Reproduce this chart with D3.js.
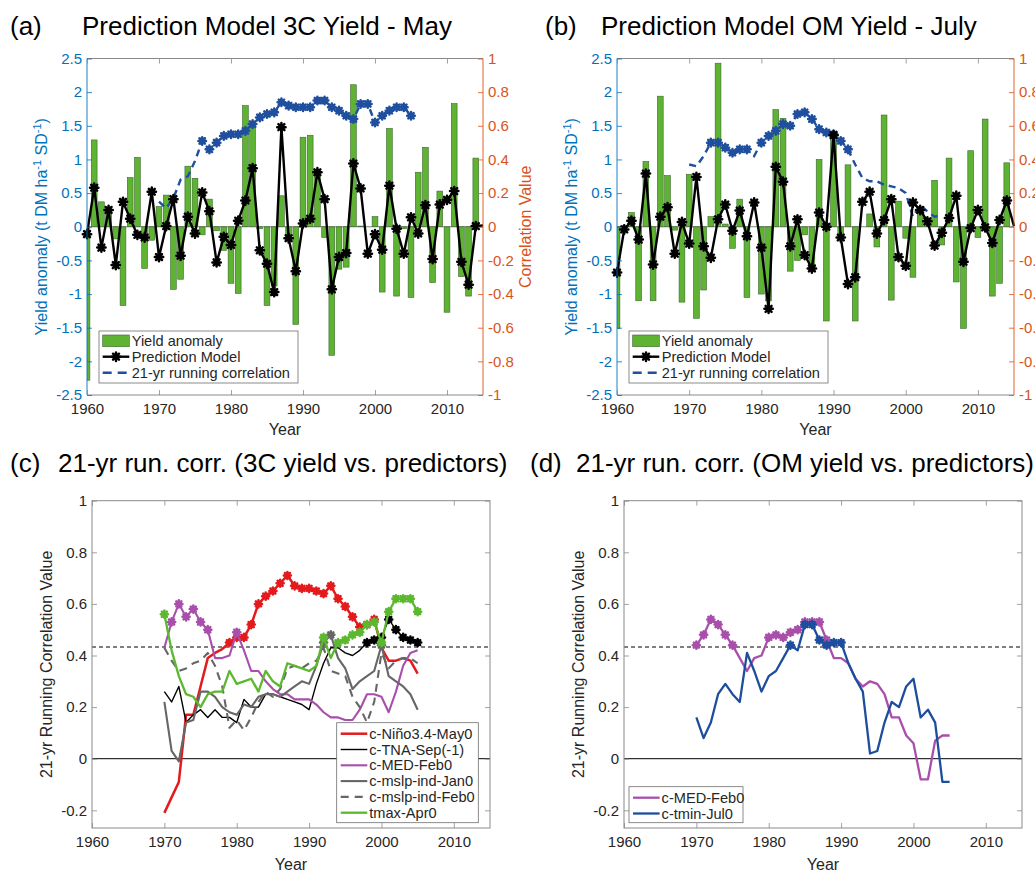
<!DOCTYPE html>
<html><head><meta charset="utf-8">
<script src="https://cdn.jsdelivr.net/npm/d3@7"></script>
<style>body{margin:0;background:#fff}svg{display:block}</style>
</head><body><svg id="chart" width="1035" height="877"></svg>
<script>
// ---------------- DATA ----------------
const barYears = d3.range(1960, 2015);
const lineYears = d3.range(1960, 2016);
const corrYears = d3.range(1970, 2006);
const xTickValues = [1960, 1970, 1980, 1990, 2000, 2010];
const yieldTickValues = [-2.5, -2, -1.5, -1, -0.5, 0, 0.5, 1, 1.5, 2, 2.5];
const corrAxisTickValues = [-1, -0.8, -0.6, -0.4, -0.2, 0, 0.2, 0.4, 0.6, 0.8, 1];
const runTickValues = [-0.2, 0, 0.2, 0.4, 0.6, 0.8, 1];
const sigLevel = 0.433;

const yield3C = [-2.28, 1.29, 0.37, 0.27, -0.18, -1.17, 0.73, 1.03, -0.62, -0.2,
  0.3, 0.47, -0.93, -0.78, 0.9, 0.72, -0.12, 0.41, -0.06, -0.35,
  -0.84, -0.99, 1.8, 1.51, -0.03, -1.17, -0.88, 0.46, -0.17, -1.45,
  1.33, 1.36, 0.8, -0.16, -1.91, -0.63, -0.6, 2.11, 0.01, 0.0,
  0.15, -0.97, 1.46, -1.03, -0.03, -1.05, 0.81, 1.18, -0.83, 0.53,
  -1.27, 1.83, -0.74, -1.03, 1.02];
const pred3C = [-0.11, 0.58, -0.31, 0.25, -0.57, 0.37, 0.12, -0.12, -0.16, 0.52,
  -0.45, 0.01, 0.41, -0.43, 0.15, -0.1, 0.51, 0.23, -0.53, -0.15,
  -0.27, 0.09, 0.39, 0.87, -0.35, -0.55, -0.97, 1.48, -0.17, -0.66,
  0.05, 0.12, 0.81, 0.41, -0.93, -0.45, -0.39, 0.94, 0.57, -0.4,
  -0.11, -0.34, 0.61, -0.03, -0.4, 0.14, -0.1, 0.32, -0.48, 0.33,
  0.4, 0.53, -0.52, -0.86, 0.01, 0.02];
const corr3C = [0.15, 0.11, 0.17, 0.28, 0.30, 0.39, 0.51, 0.46, 0.50, 0.54,
  0.55, 0.55, 0.57, 0.61, 0.65, 0.67, 0.68, 0.74, 0.72, 0.71,
  0.71, 0.71, 0.75, 0.75, 0.71, 0.69, 0.66, 0.64, 0.73, 0.73,
  0.62, 0.66, 0.69, 0.71, 0.71, 0.66];

const yieldOM = [-1.51, 0.02, 0.21, -1.1, 0.97, -1.1, 1.94, 0.76, -0.05, -1.12,
  0.78, -1.36, -0.94, 0.15, 2.43, 0.04, -0.32, 0.41, -1.05, 0.0,
  -1.0, -1.1, 1.74, 1.61, -0.66, -0.5, -0.12, -0.66, 1.0, -1.4,
  1.34, -0.1, 0.92, -1.4, 0.0, 0.19, -0.3, 1.66, -1.09, 0.38,
  -0.17, -0.75, 0.2, 0.05, 0.69, -0.27, 1.02, -0.82, -1.51, 1.13,
  -0.16, 1.6, -1.03, -0.84, 0.95];
const predOM = [-0.68, -0.04, 0.09, -0.19, 0.79, -0.56, 0.15, 0.29, -0.4, 0.07,
  -0.25, 0.74, -0.29, -0.46, 0.11, 0.33, -0.06, 0.24, -0.14, 0.36,
  -0.31, -1.22, 0.89, 0.67, -0.29, 0.11, -0.42, -0.62, 0.21, 0.0,
  1.36, -0.16, -0.85, -0.75, 0.37, 0.52, -0.1, 0.1, 0.41, -0.45,
  -0.58, 0.36, 0.25, 0.08, -0.28, -0.09, 0.13, 0.46, -0.52, -0.02,
  0.25, -0.01, -0.24, 0.1, 0.39, 0.01];
const corrOM = [0.37, 0.36, 0.42, 0.50, 0.50, 0.47, 0.44, 0.46, 0.46, 0.42,
  0.50, 0.54, 0.57, 0.61, 0.60, 0.67, 0.68, 0.64, 0.58, 0.56,
  0.55, 0.51, 0.46, 0.37, 0.29, 0.27, 0.27, 0.25, 0.24, 0.23,
  0.20, 0.06, 0.13, 0.09, 0.06, 0.07];

const cNino = [-0.21, -0.15, -0.09, 0.17, 0.17, 0.28, 0.39, 0.41, 0.425, 0.45,
  0.47, 0.47, 0.52, 0.6, 0.63, 0.65, 0.68, 0.71, 0.67, 0.66,
  0.66, 0.65, 0.64, 0.67, 0.62, 0.59, 0.55, 0.51, 0.52, 0.54,
  0.43, 0.38, 0.38, 0.39, 0.38, 0.33];
const cTNA = [0.26, 0.22, 0.28, 0.14, 0.17, 0.19, 0.16, 0.19, 0.16, 0.16,
  0.14, 0.23, 0.2, 0.2, 0.25, 0.25, 0.24, 0.23, 0.22, 0.21,
  0.19, 0.29, 0.37, 0.43, 0.43, 0.41, 0.4, 0.42, 0.45, 0.46,
  0.47, 0.54, 0.5, 0.47, 0.46, 0.45];
const cMED = [0.43, 0.53, 0.6, 0.55, 0.58, 0.53, 0.5, 0.39, 0.39, 0.4,
  0.49, 0.42, 0.34, 0.34, 0.3, 0.27, 0.25, 0.25, 0.23, 0.23,
  0.23, 0.21, 0.18, 0.16, 0.16, 0.15, 0.15, 0.19, 0.25, 0.25,
  0.24, 0.18, 0.26, 0.36, 0.41, 0.42];
const cMslpJan = [0.22, 0.03, -0.01, 0.14, 0.15, 0.26, 0.26, 0.24, 0.2, 0.18,
  0.17, 0.21, 0.2, 0.24, 0.25, 0.25, 0.24, 0.26, 0.28, 0.3,
  0.29, 0.36, 0.45, 0.48, 0.39, 0.35, 0.27, 0.3, 0.32, 0.34,
  0.44, 0.32, 0.3, 0.28, 0.25, 0.19];
const cMslpFeb = [0.43, 0.38, 0.34, 0.35, 0.37, 0.38, 0.41, 0.36, 0.28, 0.12,
  0.15, 0.11, 0.16, 0.22, 0.26, 0.24, 0.27, 0.35, 0.36, 0.35,
  0.37, 0.38, 0.43, 0.34, 0.33, 0.32, 0.24, 0.2, 0.14, 0.22,
  0.41, 0.35, 0.38, 0.39, 0.39, 0.37];
const tmaxApr = [0.56, 0.42, 0.32, 0.25, 0.24, 0.2, 0.25, 0.26, 0.26, 0.34,
  0.29, 0.3, 0.31, 0.26, 0.34, 0.3, 0.28, 0.37, 0.36, 0.35,
  0.34, 0.36, 0.47, 0.39, 0.45, 0.46, 0.48, 0.49, 0.52, 0.53,
  0.45, 0.57, 0.62, 0.62, 0.62, 0.57];

const dMED = [0.44, 0.48, 0.54, 0.52, 0.48, 0.44, 0.39, 0.34, 0.39, 0.4,
  0.47, 0.48, 0.47, 0.49, 0.5, 0.53, 0.53, 0.53, 0.46, 0.39,
  0.39, 0.37, 0.31, 0.28, 0.3, 0.29, 0.25, 0.16, 0.16, 0.09,
  0.06, -0.08, -0.08, 0.07, 0.09, 0.09];
const dTmin = [0.16, 0.08, 0.14, 0.25, 0.29, 0.25, 0.22, 0.41, 0.34, 0.26,
  0.32, 0.34, 0.39, 0.44, 0.42, 0.52, 0.52, 0.46, 0.44, 0.45,
  0.45, 0.37, 0.31, 0.26, 0.02, 0.03, 0.14, 0.22, 0.2, 0.28,
  0.31, 0.16, 0.19, 0.14, -0.09, -0.09];

// ---------------- STYLE ----------------
const FONT = '"Liberation Sans", Arial, sans-serif';
const C_LEFT = '#0072BD', C_RIGHT = '#D95319', C_TXT = '#262626', C_FRAME = '#8a8a8a';
const C_BAR = '#5eb432', C_BAR_EDGE = '#3d6630', C_CORR = '#1f4f9e';

const svg = d3.select('#chart').style('font-family', FONT);

function asterisk(r) {
  let p = '';
  for (let k = 0; k < 4; k++) {
    const a = k * Math.PI / 4, c = Math.cos(a) * r, s = Math.sin(a) * r;
    p += `M${-c},${-s}L${c},${s}`;
  }
  return p;
}
function addMarkers(g, pts, x, y, color, r) {
  const m = g.append('g').selectAll('g').data(pts).join('g')
    .attr('transform', d => `translate(${x(d[0])},${y(d[1])})`);
  m.append('path').attr('d', asterisk(r)).attr('stroke', color).attr('stroke-width', 2.5).attr('stroke-linecap', 'round').attr('fill', 'none');
  m.append('circle').attr('r', r * 0.6).attr('fill', color);
}
function styleAxis(ax, color, fs) {
  ax.selectAll('.domain').remove();
  ax.selectAll('line').attr('stroke', color).attr('stroke-width', 0.8);
  ax.selectAll('text').attr('fill', color).attr('font-size', fs).attr('font-family', FONT);
}
function fmt(v) { return String(Math.round(v * 10) / 10); }

// ---------------- TOP PANELS ----------------
function topPanel(cfg) {
  const L = cfg.left, R = cfg.right, T = 58.5, B = 395;
  const x = d3.scaleLinear().domain([1960, 2015]).range([L, R]);
  const y = d3.scaleLinear().domain([-2.5, 2.5]).range([B, T]);
  const yr = d3.scaleLinear().domain([-1, 1]).range([B, T]);
  const g = svg.append('g');
  const cid = 'clip' + cfg.id;
  svg.append('clipPath').attr('id', cid).append('rect').attr('x', L).attr('y', T).attr('width', R - L).attr('height', B - T);

  const bw = (x(1961) - x(1960)) * 0.8;
  const bars = barYears.map((yy, i) => [yy, cfg.yield[i]]);
  g.append('g').attr('clip-path', `url(#${cid})`).selectAll('rect').data(bars).join('rect')
    .attr('x', d => x(d[0]) - bw / 2).attr('width', bw)
    .attr('y', d => y(Math.max(0, d[1]))).attr('height', d => Math.abs(y(d[1]) - y(0)))
    .attr('fill', C_BAR).attr('stroke', C_BAR_EDGE).attr('stroke-width', 0.6);
  g.append('line').attr('x1', L).attr('x2', R).attr('y1', y(0)).attr('y2', y(0)).attr('stroke', '#55704a').attr('stroke-width', 0.8);

  // running correlation (right axis)
  const cpts = corrYears.map((yy, i) => [yy, cfg.corr[i]]);
  g.append('path').datum(cpts).attr('fill', 'none').attr('stroke', C_CORR).attr('stroke-width', 2.4)
    .attr('stroke-dasharray', '7,5')
    .attr('d', d3.line().x(d => x(d[0])).y(d => yr(d[1])));
  addMarkers(g, cpts.filter(d => d[1] >= sigLevel), x, yr, C_CORR, 3.8);

  // prediction model
  const ppts = lineYears.map((yy, i) => [yy, cfg.pred[i]]);
  g.append('path').datum(ppts).attr('fill', 'none').attr('stroke', '#000').attr('stroke-width', 2.4)
    .attr('stroke-linejoin', 'round')
    .attr('d', d3.line().x(d => x(d[0])).y(d => y(d[1])));
  addMarkers(g, ppts.filter(d => d[0] <= 2014), x, y, '#000', 4.2);

  // frame
  g.append('line').attr('x1', L).attr('x2', R).attr('y1', T).attr('y2', T).attr('stroke', C_FRAME);
  g.append('line').attr('x1', L).attr('x2', R).attr('y1', B).attr('y2', B).attr('stroke', C_FRAME);
  g.append('line').attr('x1', L).attr('x2', L).attr('y1', T).attr('y2', B).attr('stroke', C_LEFT).attr('stroke-width', 0.9);
  g.append('line').attr('x1', R).attr('x2', R).attr('y1', T).attr('y2', B).attr('stroke', C_RIGHT).attr('stroke-width', 0.9);

  const axB = g.append('g').attr('transform', `translate(0,${B})`)
    .call(d3.axisBottom(x).tickValues(xTickValues).tickFormat(d3.format('d')).tickSizeInner(-5).tickSizeOuter(0).tickPadding(8));
  styleAxis(axB, C_FRAME, 15); axB.selectAll('text').attr('fill', C_TXT);
  const axT = g.append('g').attr('transform', `translate(0,${T})`)
    .call(d3.axisTop(x).tickValues(xTickValues).tickFormat('').tickSizeInner(-5).tickSizeOuter(0));
  styleAxis(axT, C_FRAME, 15);
  const axL = g.append('g').attr('transform', `translate(${L},0)`)
    .call(d3.axisLeft(y).tickValues(yieldTickValues).tickFormat(fmt).tickSizeInner(-5).tickSizeOuter(0).tickPadding(5));
  styleAxis(axL, C_LEFT, 15);
  const axR = g.append('g').attr('transform', `translate(${R},0)`)
    .call(d3.axisRight(yr).tickValues(corrAxisTickValues).tickFormat(fmt).tickSizeInner(-5).tickSizeOuter(0).tickPadding(5));
  styleAxis(axR, C_RIGHT, 15);

  // axis titles
  const yl = g.append('text').attr('transform', `translate(${L - 40},${(T + B) / 2}) rotate(-90)`)
    .attr('text-anchor', 'middle').attr('fill', C_LEFT).attr('font-size', 16);
  yl.append('tspan').text('Yield anomaly (t DM ha');
  yl.append('tspan').attr('dy', -6).attr('font-size', 11).text('-1');
  yl.append('tspan').attr('dy', 6).text(' SD');
  yl.append('tspan').attr('dy', -6).attr('font-size', 11).text('-1');
  yl.append('tspan').attr('dy', 6).text(')');
  g.append('text').attr('transform', `translate(${R + 48},${(T + B) / 2}) rotate(-90)`)
    .attr('text-anchor', 'middle').attr('fill', C_RIGHT).attr('font-size', 16).text('Correlation Value');
  g.append('text').attr('x', (L + R) / 2).attr('y', B + 40).attr('text-anchor', 'middle').attr('fill', C_TXT).attr('font-size', 16).text('Year');

  // title
  svg.append('text').attr('x', cfg.tagX).attr('y', 35).attr('font-size', 26).attr('fill', '#000').text(cfg.tag);
  svg.append('text').attr('x', cfg.titleX).attr('y', 35).attr('font-size', 26).attr('fill', '#000').text(cfg.title);

  // legend
  const lx = L + 12, ly = 331;
  const lg = g.append('g');
  lg.append('rect').attr('x', lx).attr('y', ly).attr('width', 199).attr('height', 52).attr('fill', '#fff').attr('stroke', '#6e6e6e').attr('stroke-width', 0.8);
  lg.append('rect').attr('x', lx + 3.7).attr('y', ly + 4).attr('width', 26.6).attr('height', 11.7).attr('fill', C_BAR).attr('stroke', C_BAR_EDGE).attr('stroke-width', 0.6);
  lg.append('line').attr('x1', lx + 3.7).attr('x2', lx + 30.3).attr('y1', ly + 25.7).attr('y2', ly + 25.7).attr('stroke', '#000').attr('stroke-width', 2.4);
  addMarkers(lg, [[0, 0]], () => lx + 17, () => ly + 25.7, '#000', 4.2);
  lg.append('line').attr('x1', lx + 3.7).attr('x2', lx + 30.3).attr('y1', ly + 41.7).attr('y2', ly + 41.7).attr('stroke', C_CORR).attr('stroke-width', 2.4).attr('stroke-dasharray', '9,6');
  const labels = ['Yield anomaly', 'Prediction Model', '21-yr running correlation'];
  labels.forEach((t, i) => lg.append('text').attr('x', lx + 32.7).attr('y', ly + 9.7 + 16 * i + 5).attr('font-size', 14.6).attr('fill', C_TXT).text(t));
}

topPanel({ id: 'a', left: 87, right: 483, yield: yield3C, pred: pred3C, corr: corr3C,
  tag: '(a)', tagX: 10, title: 'Prediction Model 3C Yield - May', titleX: 82 });
topPanel({ id: 'b', left: 617, right: 1014, yield: yieldOM, pred: predOM, corr: corrOM,
  tag: '(b)', tagX: 545, title: 'Prediction Model OM Yield - July', titleX: 601 });

// ---------------- BOTTOM PANELS ----------------
function bottomPanel(cfg) {
  const L = cfg.left, R = cfg.right, T = 500.7, B = 828;
  const x = d3.scaleLinear().domain([1960, 2015]).range([L, R]);
  const y = d3.scaleLinear().domain([-0.2686, 1]).range([B, T]);
  const g = svg.append('g');

  g.append('line').attr('x1', L).attr('x2', R).attr('y1', y(0)).attr('y2', y(0)).attr('stroke', '#000').attr('stroke-width', 1);
  g.append('line').attr('x1', L).attr('x2', R).attr('y1', y(sigLevel)).attr('y2', y(sigLevel)).attr('stroke', '#000').attr('stroke-width', 1.2).attr('stroke-dasharray', '4,3');

  cfg.series.forEach(s => {
    const pts = corrYears.map((yy, i) => [yy, s.vals[i]]);
    g.append('path').datum(pts).attr('fill', 'none').attr('stroke', s.color).attr('stroke-width', s.width)
      .attr('stroke-dasharray', s.dash || null).attr('stroke-linejoin', 'round')
      .attr('d', d3.line().x(d => x(d[0])).y(d => y(d[1])));
    addMarkers(g, pts.filter(d => d[1] >= sigLevel), x, y, s.color, 3.6);
  });

  // frame
  g.append('rect').attr('x', L).attr('y', T).attr('width', R - L).attr('height', B - T).attr('fill', 'none').attr('stroke', C_FRAME).attr('stroke-width', 1);
  const axB = g.append('g').attr('transform', `translate(0,${B})`)
    .call(d3.axisBottom(x).tickValues(xTickValues).tickFormat(d3.format('d')).tickSizeInner(-5).tickSizeOuter(0).tickPadding(8));
  styleAxis(axB, C_FRAME, 15); axB.selectAll('text').attr('fill', C_TXT);
  const axT = g.append('g').attr('transform', `translate(0,${T})`)
    .call(d3.axisTop(x).tickValues(xTickValues).tickFormat('').tickSizeInner(-5).tickSizeOuter(0));
  styleAxis(axT, C_FRAME, 15);
  const axL = g.append('g').attr('transform', `translate(${L},0)`)
    .call(d3.axisLeft(y).tickValues(runTickValues).tickFormat(fmt).tickSizeInner(-5).tickSizeOuter(0).tickPadding(5));
  styleAxis(axL, C_FRAME, 15); axL.selectAll('text').attr('fill', C_TXT);
  const axR = g.append('g').attr('transform', `translate(${R},0)`)
    .call(d3.axisRight(y).tickValues(runTickValues).tickFormat('').tickSizeInner(-5).tickSizeOuter(0));
  styleAxis(axR, C_FRAME, 15);

  g.append('text').attr('transform', `translate(${L - 40},${(T + B) / 2}) rotate(-90)`)
    .attr('text-anchor', 'middle').attr('fill', C_TXT).attr('font-size', 16).text('21-yr Running Correlation Value');
  g.append('text').attr('x', (L + R) / 2).attr('y', B + 42).attr('text-anchor', 'middle').attr('fill', C_TXT).attr('font-size', 16).text('Year');

  svg.append('text').attr('x', cfg.tagX).attr('y', 472).attr('font-size', 26).attr('fill', '#000').text(cfg.tag);
  svg.append('text').attr('x', cfg.titleX).attr('y', 472).attr('font-size', 26).attr('fill', '#000').text(cfg.title);

  // legend
  const lg = g.append('g');
  const n = cfg.series.length;
  const lw = cfg.legW, lh = 16 * n + 4;
  const lx = cfg.legRight ? R - 11.7 - lw : L + 5;
  const ly = B - 5.3 - lh;
  lg.append('rect').attr('x', lx).attr('y', ly).attr('width', lw).attr('height', lh).attr('fill', '#fff').attr('stroke', '#6e6e6e').attr('stroke-width', 0.8);
  cfg.series.forEach((s, i) => {
    const yy = ly + 11 + 15.8 * i;
    lg.append('line').attr('x1', lx + 4).attr('x2', lx + 30.6).attr('y1', yy).attr('y2', yy)
      .attr('stroke', s.color).attr('stroke-width', s.width).attr('stroke-dasharray', s.dash ? '8,6' : null);
    lg.append('text').attr('x', lx + 32.6).attr('y', yy + 5).attr('font-size', 14.6).attr('fill', C_TXT).text(s.name);
  });
}

bottomPanel({ left: 92, right: 490, tag: '(c)', tagX: 10, titleX: 58, legRight: true, legW: 141.6,
  title: '21-yr run. corr. (3C yield vs. predictors)',
  series: [
    { name: 'c-Niño3.4-May0', vals: cNino, color: '#e41a1c', width: 2.5 },
    { name: 'c-TNA-Sep(-1)', vals: cTNA, color: '#000000', width: 1.4 },
    { name: 'c-MED-Feb0', vals: cMED, color: '#a94fab', width: 2.1 },
    { name: 'c-mslp-ind-Jan0', vals: cMslpJan, color: '#666666', width: 2.1 },
    { name: 'c-mslp-ind-Feb0', vals: cMslpFeb, color: '#666666', width: 2.1, dash: '8,6' },
    { name: 'tmax-Apr0', vals: tmaxApr, color: '#5cb82f', width: 2.3 }
  ] });
bottomPanel({ left: 624, right: 1022, tag: '(d)', tagX: 530, titleX: 576, legRight: false, legW: 114,
  title: '21-yr run. corr. (OM yield vs. predictors)',
  series: [
    { name: 'c-MED-Feb0', vals: dMED, color: '#a94fab', width: 2.3 },
    { name: 'c-tmin-Jul0', vals: dTmin, color: '#1d4e9e', width: 2.3 }
  ] });
</script>
</body></html>
